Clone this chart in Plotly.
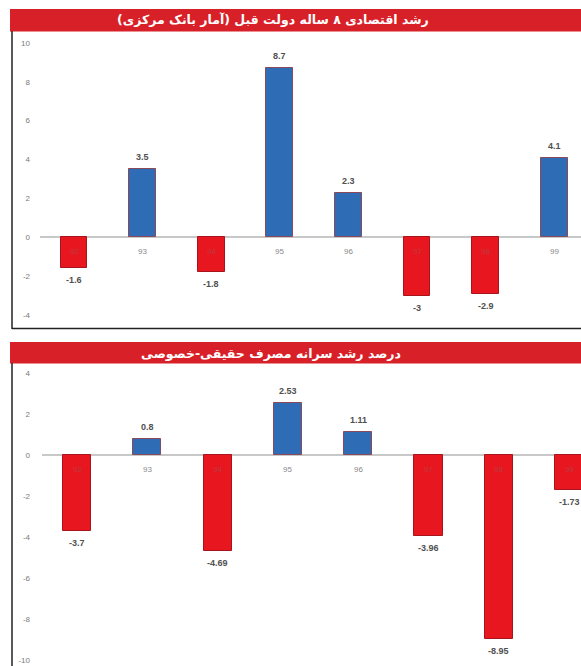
import plotly.graph_objects as go

W, H = 581, 666

# ---------- data ----------
years = ["92", "93", "94", "95", "96", "97", "98", "99"]
gdp_growth = [-1.6, 3.5, -1.8, 8.7, 2.3, -3, -2.9, 4.1]
gdp_labels = ["-1.6", "3.5", "-1.8", "8.7", "2.3", "-3", "-2.9", "4.1"]
cons_growth = [-3.7, 0.8, -4.69, 2.53, 1.11, -3.96, -8.95, -1.73]
cons_labels = ["-3.7", "0.8", "-4.69", "2.53", "1.11", "-3.96", "-8.95", "-1.73"]
top_ticks = [-4, -2, 0, 2, 4, 6, 8, 10]
bot_ticks = [-10, -8, -6, -4, -2, 0, 2, 4]
title_top = "رشد اقتصادی ۸ ساله دولت قبل (آمار بانک مرکزی)"
title_bot = "درصد رشد سرانه مصرف حقیقی-خصوصی"

BLUE = "#2e6cb6"
RED = "#e8161f"
TITLE_RED = "#d82028"


def px_x(p):
    return p / W


def px_y(p):
    return 1 - p / H


def colors(vals):
    return [BLUE if v >= 0 else RED for v in vals]


def edges(vals):
    return ["#8a4a5a" if v >= 0 else "#a8141c" for v in vals]


fig = go.Figure()
fig.add_trace(go.Bar(x=list(range(len(years))), y=gdp_growth, width=0.39,
                     marker=dict(color=colors(gdp_growth),
                                 line=dict(color=edges(gdp_growth), width=1)),
                     xaxis="x", yaxis="y", hoverinfo="skip"))
fig.add_trace(go.Bar(x=list(range(len(years))), y=cons_growth, width=0.40,
                     marker=dict(color=colors(cons_growth),
                                 line=dict(color=edges(cons_growth), width=1)),
                     xaxis="x2", yaxis="y2", hoverinfo="skip"))

tickfont = dict(family="Liberation Sans, Arial", size=8, color="#7a7a7a")
axis_common = dict(showgrid=False, showline=False, ticks="",
                   zeroline=True, zerolinecolor="#c8c8c8", zerolinewidth=2,
                   tickfont=tickfont, ticklabelstandoff=9, fixedrange=True)

fig.update_layout(
    width=W, height=H, margin=dict(l=0, r=0, t=0, b=0),
    paper_bgcolor="white", plot_bgcolor="white", showlegend=False,
    bargap=0,
    xaxis=dict(domain=[px_x(40), 1], range=[-0.496, 7.39], visible=False, fixedrange=True),
    yaxis=dict(domain=[px_y(327), px_y(35)], range=[-4.62, 10.41],
               tickvals=top_ticks, ticktext=[str(t) for t in top_ticks], **axis_common),
    xaxis2=dict(domain=[px_x(42), 1], range=[-0.5, 7.17], visible=False, fixedrange=True),
    yaxis2=dict(domain=[0, px_y(365)], range=[-10.29, 4.39],
                tickvals=bot_ticks, ticktext=[str(t) for t in bot_ticks], **axis_common),
)

shapes = [
    # title bars
    dict(type="rect", xref="paper", yref="paper", x0=px_x(10), x1=1,
         y0=px_y(31.5), y1=px_y(9), fillcolor=TITLE_RED, line=dict(width=0), layer="above"),
    dict(type="rect", xref="paper", yref="paper", x0=px_x(10), x1=1,
         y0=px_y(363.5), y1=px_y(342), fillcolor=TITLE_RED, line=dict(width=0), layer="above"),
    # frames
    dict(type="line", xref="paper", yref="paper", x0=px_x(12), x1=px_x(12),
         y0=px_y(31), y1=px_y(329), line=dict(color="#222", width=1.5)),
    dict(type="line", xref="paper", yref="paper", x0=px_x(12), x1=1,
         y0=px_y(328.5), y1=px_y(328.5), line=dict(color="#222", width=1.5)),
    dict(type="line", xref="paper", yref="paper", x0=px_x(12), x1=px_x(12),
         y0=px_y(363), y1=0, line=dict(color="#222", width=1.5)),
]

titlefont = dict(family="DejaVu Sans", size=12.5, color="white")
ann = [
    dict(text="<b>" + title_top + "</b>", xref="paper", yref="paper",
         x=px_x(273), y=px_y(20), showarrow=False, xanchor="center", yanchor="middle",
         font=titlefont),
    dict(text="<b>" + title_bot + "</b>", xref="paper", yref="paper",
         x=px_x(271), y=px_y(353), showarrow=False, xanchor="center", yanchor="middle",
         font=titlefont),
]

valfont = dict(family="Liberation Sans, Arial", size=9, color="#505050")


def add_labels(vals, labs, xr, yr):
    for i, (v, t) in enumerate(zip(vals, labs)):
        ann.append(dict(text="<b>" + t + "</b>", xref=xr, yref=yr, x=i, y=v,
                        showarrow=False, xanchor="center", yanchor="middle",
                        yshift=12 if v >= 0 else -12, font=valfont))
        ann.append(dict(text=years[i], xref=xr, yref=yr, x=i, y=0, showarrow=False,
                        xanchor="center", yanchor="middle", yshift=-14,
                        font=dict(family="Liberation Sans, Arial", size=8,
                                  color="#8a8a8a" if v >= 0 else "#c23a40")))


add_labels(gdp_growth, gdp_labels, "x", "y")
add_labels(cons_growth, cons_labels, "x2", "y2")

fig.update_layout(shapes=shapes, annotations=ann)
fig.write_html("out.html", config={"displayModeBar": False},
               post_script="document.body.style.margin='0';document.body.style.overflow='hidden';")
